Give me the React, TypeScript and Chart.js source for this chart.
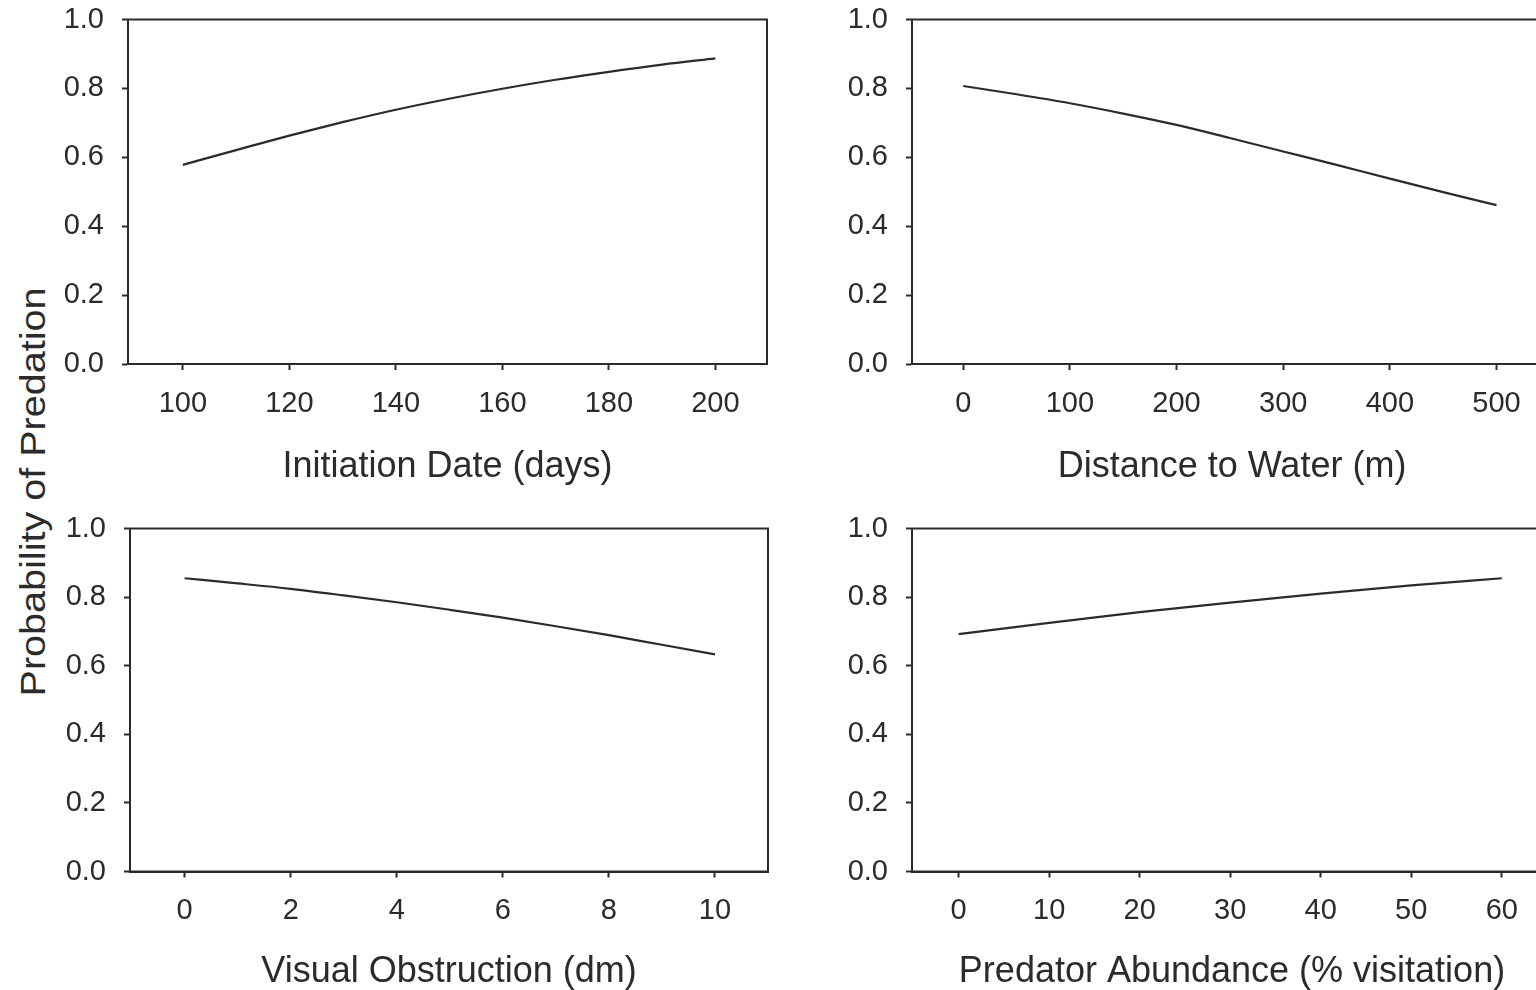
import React, { useEffect, useRef } from "react";
import { Chart, registerables } from "chart.js";

Chart.register(...registerables);

// Shared y axis
const probTicks = [0, 0.2, 0.4, 0.6, 0.8, 1.0];

// Initiation date (days) vs predicted probability
const initiationDays = [100, 110, 120, 130, 140, 150, 160, 170, 180, 190, 200];
const initiationProb = [0.578, 0.621, 0.663, 0.702, 0.738, 0.770, 0.799, 0.825, 0.848, 0.869, 0.887];
const initiationTicks = [100, 120, 140, 160, 180, 200];

// Distance to water (m)
const waterDistance = [0, 50, 100, 150, 200, 250, 300, 350, 400, 450, 500];
const waterProb = [0.807, 0.783, 0.757, 0.727, 0.694, 0.656, 0.617, 0.578, 0.538, 0.499, 0.461];
const waterTicks = [0, 100, 200, 300, 400, 500];

// Visual obstruction (dm)
const obstruction = [0, 1, 2, 3, 4, 5, 6, 7, 8, 9, 10];
const obstructionProb = [0.855, 0.840, 0.824, 0.805, 0.785, 0.763, 0.740, 0.715, 0.689, 0.661, 0.633];
const obstructionTicks = [0, 2, 4, 6, 8, 10];

// Predator abundance (% visitation)
const visitation = [0, 10, 20, 30, 40, 50, 60];
const visitationProb = [0.692, 0.725, 0.756, 0.784, 0.810, 0.834, 0.855];
const visitationTicks = [0, 10, 20, 30, 40, 50, 60];

const INK = "#2b2b2b";
const FONT = "'Liberation Sans', Arial, Helvetica, sans-serif";

// Closes the plot box on the top and right sides
const framePlugin = {
  id: "frame",
  beforeDatasetsDraw(chart: any) {
    const { ctx, chartArea } = chart;
    ctx.save();
    ctx.strokeStyle = INK;
    ctx.lineWidth = 2;
    ctx.strokeRect(chartArea.left, chartArea.top, chartArea.right - chartArea.left, chartArea.bottom - chartArea.top);
    ctx.restore();
  },
};

type PanelProps = {
  xs: number[];
  ys: number[];
  xTicks: number[];
  xMin: number;
  xMax: number;
  title: string;
  left: number;
  top: number;
  width: number;
  height: number;
  padTop: number;
  padRight: number;
  xAxisHeight: number;
  titlePad: number;
};

function Panel(p: PanelProps) {
  const ref = useRef<HTMLCanvasElement | null>(null);
  useEffect(() => {
    if (!ref.current) return;
    const chart = new Chart(ref.current, {
      type: "line",
      data: {
        datasets: [
          {
            data: p.xs.map((x, i) => ({ x, y: p.ys[i] })),
            borderColor: INK,
            borderWidth: 2.2,
            pointRadius: 0,
            fill: false,
            cubicInterpolationMode: "monotone",
          },
        ],
      },
      options: {
        animation: false,
        responsive: false,
        maintainAspectRatio: false,
        events: [],
        layout: { padding: { top: p.padTop, right: p.padRight, bottom: 0, left: 0 } },
        plugins: { legend: { display: false }, tooltip: { enabled: false } },
        scales: {
          x: {
            type: "linear",
            min: p.xMin,
            max: p.xMax,
            afterBuildTicks: (s: any) => {
              s.ticks = p.xTicks.map((v) => ({ value: v }));
            },
            afterFit: (s: any) => {
              s.height = p.xAxisHeight;
              s.paddingLeft = 0;
              s.paddingRight = 0;
            },
            grid: { display: true, drawOnChartArea: false, drawTicks: true, tickLength: 6, tickWidth: 2, tickColor: INK },
            border: { display: true, color: INK, width: 2 },
            ticks: {
              font: { family: FONT, size: 29 },
              color: INK,
              padding: 16.5,
              maxRotation: 0,
              autoSkip: false,
              callback: (v: any) => String(v),
            },
            title: {
              display: true,
              text: p.title,
              font: { family: FONT, size: 36 },
              color: INK,
              padding: { top: 0, bottom: p.titlePad },
            },
          },
          y: {
            type: "linear",
            min: 0,
            max: 1,
            afterBuildTicks: (s: any) => {
              s.ticks = probTicks.map((v) => ({ value: v }));
            },
            afterFit: (s: any) => {
              s.width = 72;
              s.paddingTop = 0;
              s.paddingBottom = 0;
            },
            grid: { display: true, drawOnChartArea: false, drawTicks: true, tickLength: 6, tickWidth: 2, tickColor: INK },
            border: { display: true, color: INK, width: 2 },
            ticks: {
              font: { family: FONT, size: 29 },
              color: INK,
              padding: 18,
              callback: (v: any) => Number(v).toFixed(1),
            },
          },
        },
      },
      plugins: [framePlugin],
    } as any);
    return () => chart.destroy();
  }, []);
  return (
    <div style={{ position: "absolute", left: p.left, top: p.top, width: p.width, height: p.height }}>
      <canvas ref={ref} width={p.width} height={p.height} style={{ width: p.width, height: p.height, display: "block" }} />
    </div>
  );
}

export default function App() {
  return (
    <div
      style={{
        position: "fixed",
        left: 0,
        top: 0,
        width: 1536,
        height: 990,
        overflow: "hidden",
        background: "#ffffff",
      }}
    >
      <Panel
        xs={initiationDays}
        ys={initiationProb}
        xTicks={initiationTicks}
        xMin={89.7}
        xMax={209.7}
        title="Initiation Date (days)"
        left={56}
        top={0}
        width={730}
        height={500}
        padTop={19.5}
        padRight={19}
        xAxisHeight={136}
        titlePad={11.4}
      />
      <Panel
        xs={waterDistance}
        ys={waterProb}
        xTicks={waterTicks}
        xMin={-48}
        xMax={552}
        title="Distance to Water (m)"
        left={840}
        top={0}
        width={732}
        height={500}
        padTop={19.5}
        padRight={20}
        xAxisHeight={136}
        titlePad={11.4}
      />
      <Panel
        xs={obstruction}
        ys={obstructionProb}
        xTicks={obstructionTicks}
        xMin={-1.03}
        xMax={11}
        title="Visual Obstruction (dm)"
        left={58}
        top={500}
        width={730}
        height={500}
        padTop={28.5}
        padRight={20}
        xAxisHeight={128.5}
        titlePad={6}
      />
      <Panel
        xs={visitation}
        ys={visitationProb}
        xTicks={visitationTicks}
        xMin={-5.15}
        xMax={65.55}
        title="Predator Abundance (% visitation)"
        left={840}
        top={500}
        width={732}
        height={500}
        padTop={28.5}
        padRight={20}
        xAxisHeight={128.5}
        titlePad={6}
      />
      <div
        style={{
          position: "absolute",
          left: 32,
          top: 492,
          transform: "translate(-50%, -50%) rotate(-90deg) scaleX(1.13)",
          whiteSpace: "nowrap",
          fontFamily: FONT,
          fontSize: 35,
          color: INK,
          lineHeight: 1,
        }}
      >
        Probability of Predation
      </div>
    </div>
  );
}
